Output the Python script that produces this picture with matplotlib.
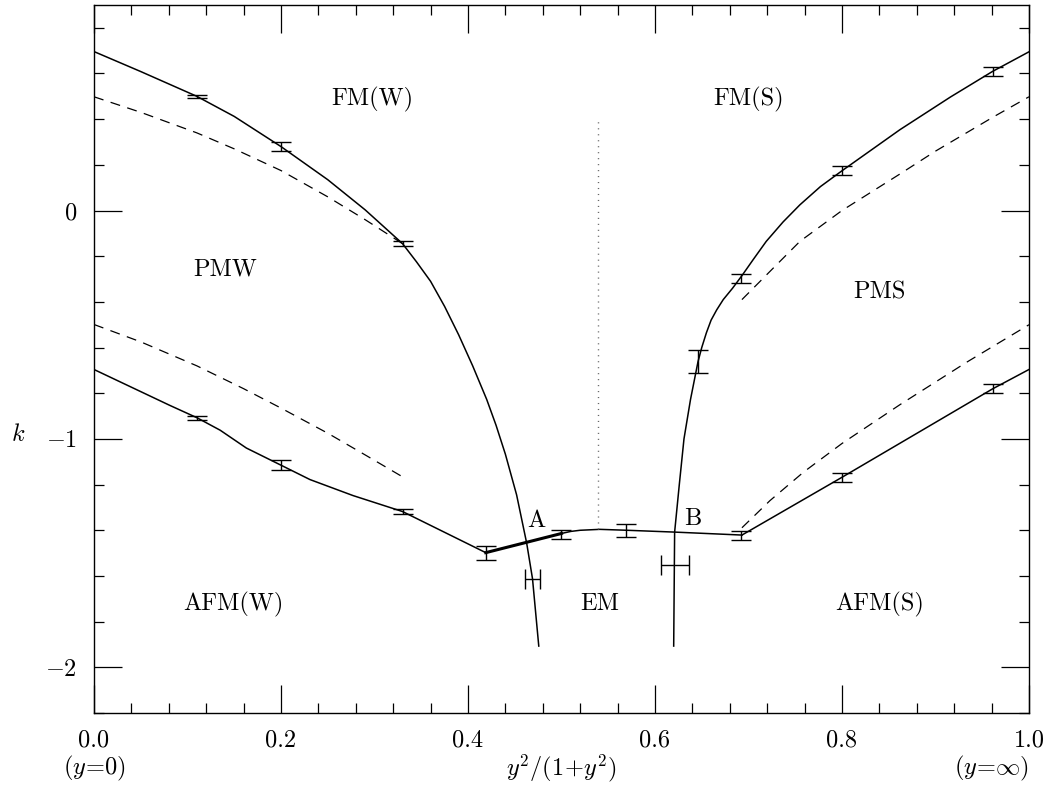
'''
phase diagram k vs y^2/(1+y^2)
'''

import matplotlib
matplotlib.use('Agg')
import matplotlib.pyplot as plt
from matplotlib.ticker import MultipleLocator

plt.rcParams['font.family'] = 'serif'
plt.rcParams['font.serif'] = ['cmr10']
plt.rcParams['mathtext.fontset'] = 'cm'
plt.rcParams['axes.formatter.use_mathtext'] = True

# upper-left boundary FM(W) / PMW
fmw_x = [0.0, 0.05, 0.11, 0.15, 0.2, 0.25, 0.29, 0.33, 0.345, 0.36, 0.375, 0.39, 0.405, 0.42,
         0.43, 0.44, 0.452, 0.4628, 0.469, 0.4757]
fmw_y = [0.696, 0.6085, 0.50, 0.412, 0.28, 0.135, 0.003, -0.145, -0.225, -0.31, -0.42, -0.544, -0.68, -0.827,
         -0.94, -1.067, -1.245, -1.457, -1.612, -1.907]

# upper-right boundary FM(S) / PMS
fms_x = [0.620, 0.621, 0.626, 0.631, 0.638, 0.646, 0.650, 0.655, 0.660, 0.666, 0.673, 0.683, 0.693,
         0.705, 0.719, 0.737, 0.755, 0.777, 0.80, 0.862, 0.916, 0.961, 1.0]
fms_y = [-1.907, -1.408, -1.2, -1.0, -0.827, -0.662, -0.60, -0.535, -0.48, -0.435, -0.39, -0.34, -0.285,
         -0.215, -0.135, -0.05, 0.025, 0.105, 0.174, 0.354, 0.497, 0.609, 0.695]

# lower boundary AFM / PM / EM
afm_x = [0.0, 0.081, 0.11, 0.135, 0.163, 0.2, 0.231, 0.277, 0.33, 0.419]
afm_y = [-0.696, -0.853, -0.907, -0.962, -1.04, -1.115, -1.178, -1.248, -1.318, -1.498]
thick_x = [0.419, 0.50]
thick_y = [-1.498, -1.414]
em_x = [0.50, 0.51, 0.52, 0.541, 0.570, 0.621, 0.693]
em_y = [-1.414, -1.405, -1.40, -1.396, -1.40, -1.408, -1.421]
afms_x = [0.693, 0.80, 0.961, 1.0]
afms_y = [-1.421, -1.168, -0.781, -0.696]

# dashed lines
dash1_x = [0.0, 0.05, 0.11, 0.15, 0.2, 0.25, 0.29, 0.33]
dash1_y = [0.498, 0.43, 0.34, 0.27, 0.175, 0.06, -0.04, -0.145]
dash2_x = [0.0, 0.05, 0.11, 0.16, 0.2, 0.25, 0.29, 0.33]
dash2_y = [-0.499, -0.575, -0.68, -0.78, -0.865, -0.975, -1.07, -1.166]
dash3_x = [0.693, 0.727, 0.755, 0.80, 0.862, 0.9, 0.962, 1.0]
dash3_y = [-0.39, -0.25, -0.135, 0.0, 0.16, 0.26, 0.41, 0.498]
dash4_x = [0.693, 0.723, 0.759, 0.80, 0.862, 0.933, 1.0]
dash4_y = [-1.389, -1.27, -1.145, -1.02, -0.85, -0.665, -0.50]

# dotted line
dot_x = [0.539, 0.539]
dot_y = [-1.396, 0.407]

# vertical error bars
err_x = [0.11, 0.2, 0.33, 0.11, 0.2, 0.33, 0.419, 0.50, 0.569, 0.692, 0.646, 0.692, 0.80, 0.961, 0.80, 0.961]
err_y = [0.50, 0.28, -0.145, -0.907, -1.115, -1.318, -1.50, -1.418, -1.40, -1.423, -0.662, -0.296, 0.174, 0.609, -1.168, -0.781]
err_dy = [0.007, 0.018, 0.01, 0.009, 0.022, 0.012, 0.031, 0.02, 0.028, 0.02, 0.051, 0.02, 0.02, 0.018, 0.02, 0.02]

# horizontal error bars
herr_x = [0.469, 0.621]
herr_y = [-1.612, -1.552]
herr_dx = [0.008, 0.015]

# region labels
labels = ['FM(W)', 'FM(S)', 'PMW', 'PMS', 'AFM(W)', 'EM', 'AFM(S)', 'A', 'B']
label_x = [0.298, 0.70, 0.14, 0.84, 0.149, 0.541, 0.84, 0.473, 0.64]
label_y = [0.486, 0.486, -0.258, -0.36, -1.724, -1.724, -1.724, -1.36, -1.35]

fig = plt.figure(figsize=(10.5, 7.88), dpi=100)
ax = fig.add_axes([0.0895, 0.0952, 0.8905, 0.8985])

lw = 1.1
ax.plot(fmw_x, fmw_y, 'k-', lw=lw)
ax.plot(fms_x, fms_y, 'k-', lw=lw)
ax.plot(afm_x, afm_y, 'k-', lw=lw)
ax.plot(thick_x, thick_y, 'k-', lw=2.2)
ax.plot(em_x, em_y, 'k-', lw=lw)
ax.plot(afms_x, afms_y, 'k-', lw=lw)
for xs, ys in [(dash1_x, dash1_y), (dash2_x, dash2_y), (dash3_x, dash3_y), (dash4_x, dash4_y)]:
    ax.plot(xs, ys, 'k--', lw=0.9, dashes=(8, 6))
ax.plot(dot_x, dot_y, lw=1.0, linestyle=(0, (0.8, 3.5)), color='0.4')

ax.errorbar(err_x, err_y, yerr=err_dy, fmt='none', ecolor='k', elinewidth=1.0, capsize=7, capthick=1.0)
ax.errorbar(herr_x, herr_y, xerr=herr_dx, fmt='none', ecolor='k', elinewidth=1.0, capsize=7, capthick=1.0)

for t, x, y in zip(labels, label_x, label_y):
    ax.text(x, y, t, fontsize=17.5, ha='center', va='center')

ax.set_xlim(0, 1.0)
ax.set_ylim(-2.2, 0.9)
ax.xaxis.set_major_locator(MultipleLocator(0.2))
ax.xaxis.set_minor_locator(MultipleLocator(0.04))
ax.yaxis.set_major_locator(MultipleLocator(1))
ax.yaxis.set_minor_locator(MultipleLocator(0.2))
ax.xaxis.set_major_formatter(plt.FuncFormatter(lambda v, p: '%.1f' % v))
ax.yaxis.set_major_formatter(plt.FuncFormatter(lambda v, p: r'$%d$' % v if v != 0 else '0'))
ax.tick_params(which='both', direction='in', top=True, right=True, labelsize=17.5, width=0.9)
ax.tick_params(which='major', length=20, pad=12)
ax.tick_params(which='minor', length=7)
for s in ax.spines.values():
    s.set_linewidth(1.0)

# second line of x labels
ax.text(0.5, -0.078, r'$y^2/(1\!+\!y^2)$', transform=ax.transAxes, fontsize=17.5, ha='center', va='center')
ax.text(0.0, -0.078, r'$(y\!=\!0)$', transform=ax.transAxes, fontsize=17.5, ha='center', va='center')
ax.text(1.0, -0.078, r'$(y\!=\!\infty)$', transform=ax.transAxes, fontsize=17.5, ha='right', va='center')
fig.text(18 / 1050, 1 - 435 / 788, r'$k$', fontsize=17.5, ha='center', va='center')

fig.savefig('out.png', dpi=100)
